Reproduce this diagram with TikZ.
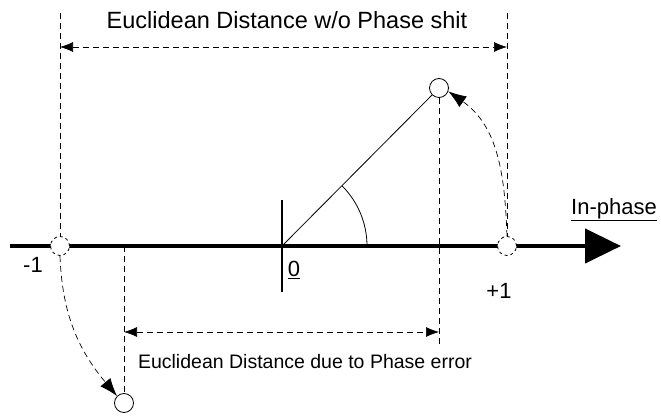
\documentclass[tikz,border=0pt]{standalone}
\usepackage{fontspec}
\setmainfont{Liberation Sans}
\usetikzlibrary{arrows.meta,positioning}
\tikzset{
  pt/.style={draw,circle,minimum size=19pt,inner sep=0pt,fill=white,line width=0.8pt},
  ptd/.style={pt,dashed},
  guide/.style={dashed,line width=0.7pt,dash pattern=on 6pt off 4pt},
  dim/.style={guide,{Latex[length=13pt,width=10pt]}-{Latex[length=13pt,width=10pt]}},
  move/.style={guide,-{Latex[length=18pt,width=13pt]}},
  lbl/.style={font=\fontsize{22}{24}\selectfont,inner sep=0pt}
}
\begin{document}
\begin{tikzpicture}[x=1pt,y=1pt]
            \useasboundingbox (0,0) rectangle (661,415);
            % L'axe en phase
            \coordinate (debut) at (10,169);
            \coordinate (fin) at (621,169);
            \draw[line width=4.5pt,-{Triangle[length=36pt,width=34pt]}] (debut) -- (fin);
            \node[lbl] (iphase) at (614,205) {\underline{In-phase}};
            % L'origine
            \coordinate (O) at (282,169);
            \draw[line width=2.5pt] (282,123) -- (282,215);
            \node[lbl] (zero) at (294,145) {\underline{0}};
            % Les points
            \node[ptd] (m1) at (60,169) {};
            \node[ptd] (p1) at (507,169) {};
            \node[pt] (haut) at (439,327) {};
            \node[pt] (bas) at (124,12) {};
            \node[lbl] (lm1) at (33,150) {-1};
            \node[lbl] (lp1) at (499,124) {+1};
            % Rayon et angle
            \draw[line width=0.8pt] (O) -- (haut);
            \draw[line width=0.8pt] (O) ++(85,0) arc (0:45:85);
            % Lignes de rappel
            \coordinate (g1) at (60,402);
            \coordinate (d1) at (507,402);
            \coordinate (g2) at (124,169);
            \coordinate (d2) at (439,70);
            \draw[guide] (g1) -- (m1);
            \draw[guide] (d1) -- (p1);
            \draw[guide] (g2) -- (bas);
            \draw[guide] (haut) -- (d2);
            % Distances
            \draw[dim] (60,368) -- (507,368);
            \node (t1) at (287,395) {\fontsize{23.5}{26}\selectfont Euclidean Distance w/o Phase shit};
            \draw[dim] (124,83) -- (439,83);
            \node (t2) at (305,53) {\fontsize{19.5}{22}\selectfont Euclidean Distance due to Phase error};
            % Rotation des points
            \draw[move] (m1.south) to[out=-88,in=130] (bas.north west);
            \draw[move] (p1.north) to[out=92,in=-35] (haut.-20);
        \end{tikzpicture}
\end{document}
